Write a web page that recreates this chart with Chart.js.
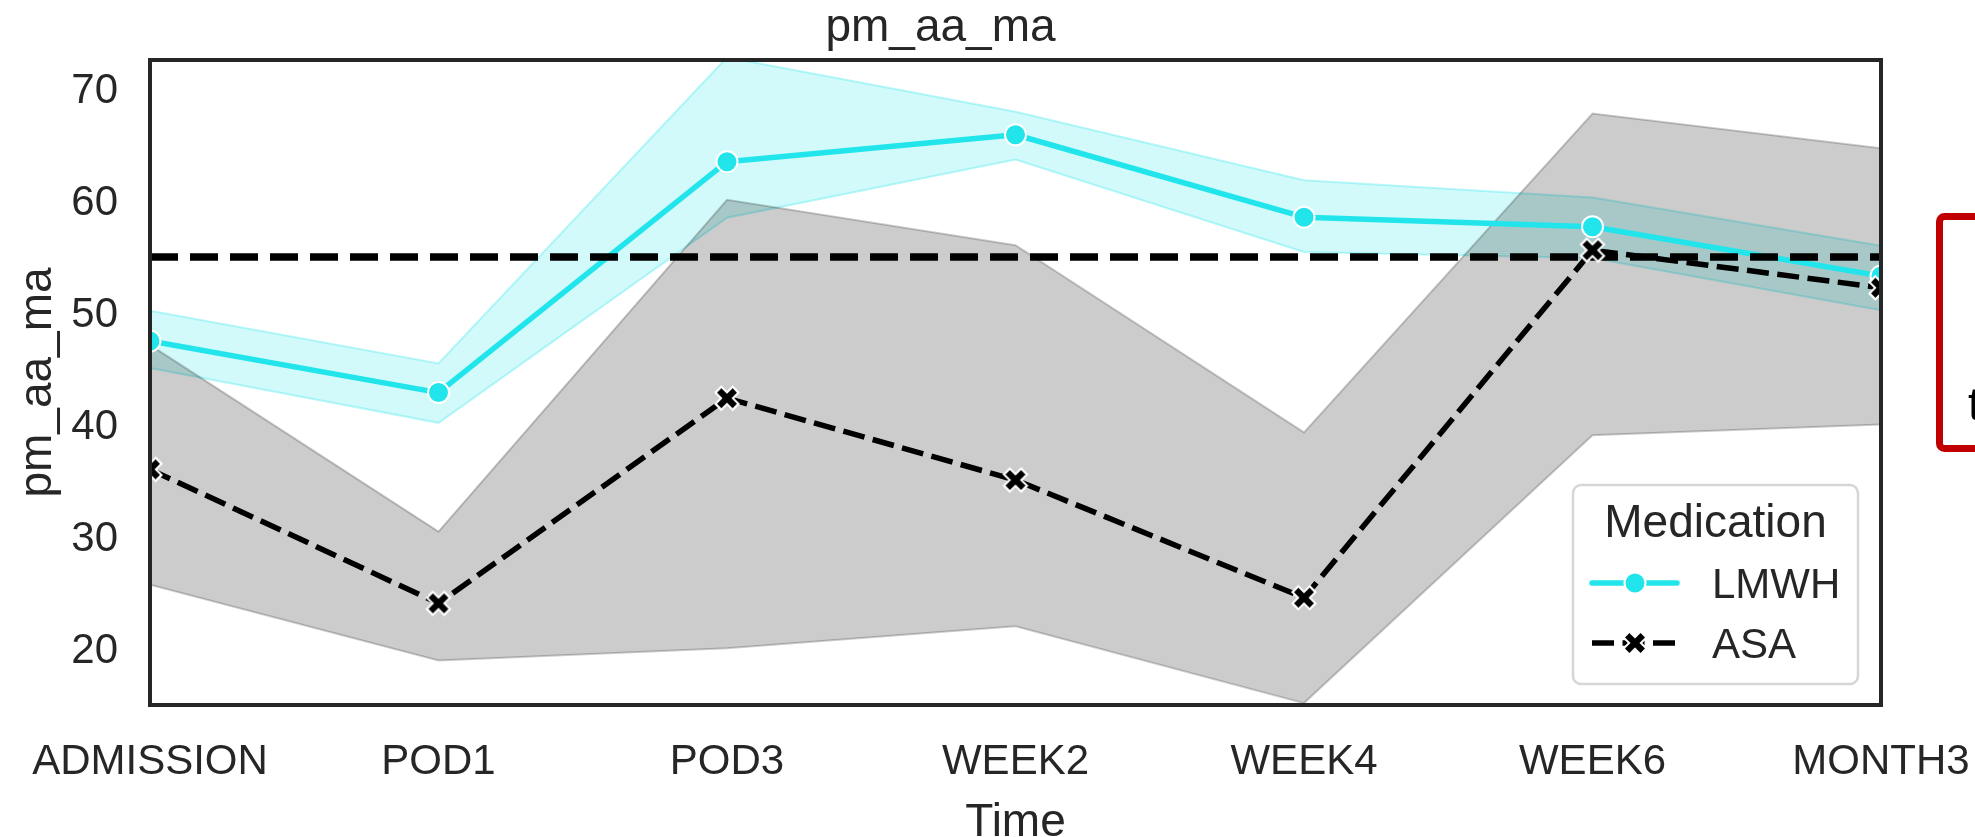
<!DOCTYPE html>
<html><head><meta charset="utf-8">
<script src="https://cdn.jsdelivr.net/npm/chart.js@4.4.1/dist/chart.umd.min.js"></script>
<style>html,body{margin:0;padding:0;background:#fff;overflow:hidden}#wrap{width:1975px;height:837px}</style>
</head><body><div id="wrap"><canvas id="c" width="1975" height="837"></canvas></div>
<script>
// ---- data ----
const categories = ['ADMISSION', 'POD1', 'POD3', 'WEEK2', 'WEEK4', 'WEEK6', 'MONTH3'];
const lmwhMean = [47.7, 43.1, 63.7, 66.1, 58.75, 57.9, 53.5];
const lmwhLow  = [45.3, 40.4, 58.7, 63.9, 55.65, 55.1, 50.45];
const lmwhHigh = [50.4, 45.7, 73.0, 68.15, 62.05, 60.5, 56.2];
const asaMean  = [36.25, 24.3, 42.6, 35.3, 24.8, 55.8, 52.45];
const asaLow   = [25.95, 19.2, 20.3, 22.25, 15.4, 39.3, 40.25];
const asaHigh  = [47.35, 30.7, 60.3, 56.25, 39.55, 68.0, 64.9];
const yTicks = [20, 30, 40, 50, 60, 70];
const yRange = [15.23, 72.77];
const refValue = 55.2;
const seriesNames = ['LMWH', 'ASA'];
const legendTitle = 'Medication';
const chartTitle = 'pm_aa_ma';
const xTitle = 'Time';
const yTitle = 'pm_aa_ma';
const sideNote = 't';

// ---- styles ----
const FONT = "'Liberation Sans', Arial, Helvetica, sans-serif";
const TEXT = '#262626';
const CYAN = 'rgb(34,229,236)';
const LW = 5.5;
const DASH = [22, 8.5];

function makeX(size, half, w, ow) {
  const c = document.createElement('canvas');
  c.width = c.height = size;
  const g = c.getContext('2d');
  const m = size / 2;
  g.lineCap = 'butt';
  const cross = (h) => {
    g.beginPath();
    g.moveTo(m - h, m - h); g.lineTo(m + h, m + h);
    g.moveTo(m + h, m - h); g.lineTo(m - h, m + h);
    g.stroke();
  };
  g.strokeStyle = '#fff'; g.lineWidth = w + 2 * ow; cross(half + ow * 0.8);
  g.strokeStyle = '#000'; g.lineWidth = w; cross(half);
  return c;
}
const xMarker = makeX(30, 7.8, 6.2, 2);

const bgPlugin = {
  id: 'bg',
  beforeDraw(chart) {
    const ctx = chart.ctx;
    ctx.save(); ctx.fillStyle = '#fff'; ctx.fillRect(0, 0, chart.width, chart.height); ctx.restore();
  }
};

const refPlugin = {
  id: 'refline',
  afterDatasetDraw(chart, args) {
    if (args.index !== 4) return;
    const ca = chart.chartArea, ctx = chart.ctx;
    const y = chart.scales.y.getPixelForValue(refValue);
    ctx.save();
    ctx.beginPath(); ctx.rect(ca.left, ca.top, ca.right - ca.left, ca.bottom - ca.top); ctx.clip();
    ctx.strokeStyle = '#000'; ctx.lineWidth = 7.5; ctx.setLineDash([28, 12]); ctx.lineCap = 'butt';
    ctx.beginPath(); ctx.moveTo(ca.left, y); ctx.lineTo(ca.right, y); ctx.stroke();
    ctx.restore();
  }
};

const decoPlugin = {
  id: 'deco',
  afterDraw(chart) {
    const ca = chart.chartArea, ctx = chart.ctx;
    ctx.save();
    // frame
    ctx.strokeStyle = TEXT; ctx.lineWidth = 4; ctx.setLineDash([]);
    ctx.strokeRect(ca.left, ca.top, ca.right - ca.left, ca.bottom - ca.top);
    // legend
    const w = 285, h = 199;
    const L = ca.right - 23 - w, T = ca.bottom - 21 - h;
    ctx.beginPath(); ctx.roundRect(L, T, w, h, 8);
    ctx.fillStyle = 'rgba(255,255,255,0.8)'; ctx.fill();
    ctx.lineWidth = 2.5; ctx.strokeStyle = '#d6d6d6'; ctx.stroke();
    ctx.fillStyle = TEXT; ctx.textBaseline = 'alphabetic';
    ctx.font = '46px ' + FONT; ctx.textAlign = 'center';
    ctx.fillText(legendTitle, L + w / 2, T + 52);
    ctx.font = '42px ' + FONT; ctx.textAlign = 'left';
    // LMWH row
    let ry = T + 98;
    ctx.strokeStyle = CYAN; ctx.lineWidth = LW; ctx.lineCap = 'round';
    ctx.beginPath(); ctx.moveTo(L + 19, ry); ctx.lineTo(L + 104, ry); ctx.stroke();
    ctx.beginPath(); ctx.arc(L + 62, ry, 10.5, 0, Math.PI * 2);
    ctx.fillStyle = CYAN; ctx.fill(); ctx.lineWidth = 2; ctx.strokeStyle = '#fff'; ctx.stroke();
    ctx.fillStyle = TEXT; ctx.fillText(seriesNames[0], L + 139, T + 113);
    // ASA row
    ry = T + 158;
    ctx.strokeStyle = '#000'; ctx.lineWidth = LW; ctx.lineCap = 'butt'; ctx.setLineDash(DASH);
    ctx.beginPath(); ctx.moveTo(L + 19, ry); ctx.lineTo(L + 105, ry); ctx.stroke();
    ctx.setLineDash([]);
    ctx.drawImage(xMarker, L + 62 - 15, ry - 15);
    ctx.fillStyle = TEXT; ctx.fillText(seriesNames[1], L + 139, T + 173);
    // cut-off annotation box at the right edge
    ctx.strokeStyle = '#c00000'; ctx.lineWidth = 7;
    ctx.beginPath(); ctx.roundRect(1939.5, 216.5, 120, 232, 5); ctx.stroke();
    ctx.fillStyle = '#000'; ctx.font = '46px ' + FONT;
    ctx.fillText(sideNote, 1968, 420);
    ctx.restore();
  }
};

const bandBorderC = 'rgba(34,229,236,0.3)';
const bandBorderG = 'rgba(0,0,0,0.2)';

new Chart(document.getElementById('c'), {
  type: 'line',
  data: {
    labels: categories,
    datasets: [
      { label: 'lmwh_lo', data: lmwhLow, borderColor: bandBorderC, borderWidth: 2, pointRadius: 0, fill: false, order: 11, clip: 0 },
      { label: 'lmwh_hi', data: lmwhHigh, borderColor: bandBorderC, borderWidth: 2, pointRadius: 0,
        fill: { target: 0 }, backgroundColor: 'rgba(34,229,236,0.2)', order: 10, clip: 0 },
      { label: 'asa_lo', data: asaLow, borderColor: bandBorderG, borderWidth: 2, pointRadius: 0, fill: false, order: 9, clip: 0 },
      { label: 'asa_hi', data: asaHigh, borderColor: bandBorderG, borderWidth: 2, pointRadius: 0,
        fill: { target: 2 }, backgroundColor: 'rgba(0,0,0,0.2)', order: 8, clip: 0 },
      { label: seriesNames[0], data: lmwhMean, borderColor: CYAN, borderWidth: LW, fill: false,
        pointRadius: 10.5, pointBackgroundColor: CYAN, pointBorderColor: '#fff', pointBorderWidth: 2,
        order: 2, clip: 0, borderCapStyle: 'round', borderJoinStyle: 'round' },
      { label: seriesNames[1], data: asaMean, borderColor: '#000', borderWidth: LW, borderDash: DASH, fill: false,
        pointStyle: xMarker, pointRadius: 12, order: 1, clip: 0 }
    ]
  },
  options: {
    responsive: false, animation: false, events: [],
    devicePixelRatio: 1,
    layout: { padding: { left: 0, right: 94, top: 0, bottom: 0 } },
    elements: { line: { tension: 0 } },
    plugins: {
      legend: { display: false }, tooltip: { enabled: false },
      title: { display: true, text: chartTitle, color: TEXT,
        font: { family: FONT, size: 46, weight: 'normal', lineHeight: 1 }, padding: { top: 5, bottom: 9 } }
    },
    scales: {
      x: {
        type: 'category', offset: false,
        grid: { display: false, drawTicks: false }, border: { display: false },
        ticks: { color: TEXT, font: { family: FONT, size: 42 }, padding: 32, maxRotation: 0, autoSkip: false },
        title: { display: true, text: xTitle, color: TEXT, font: { family: FONT, size: 46, lineHeight: 0.6 }, padding: { top: 0, bottom: 0 } },
        afterFit(s) { s.height = 132; s.paddingLeft = 0; s.paddingRight = 0; }
      },
      y: {
        type: 'linear', min: yRange[0], max: yRange[1],
        grid: { display: false, drawTicks: false }, border: { display: false },
        ticks: { color: TEXT, font: { family: FONT, size: 42, lineHeight: 1 }, padding: 32 },
        afterBuildTicks(s) { s.ticks = yTicks.map(v => ({ value: v })); },
        title: { display: true, text: yTitle, color: TEXT, font: { family: FONT, size: 46, lineHeight: 1 }, padding: { top: 15, bottom: 0 } },
        afterFit(s) { s.width = 150; s.paddingTop = 0; s.paddingBottom = 0; }
      }
    }
  },
  plugins: [bgPlugin, refPlugin, decoPlugin]
});
</script></body></html>
